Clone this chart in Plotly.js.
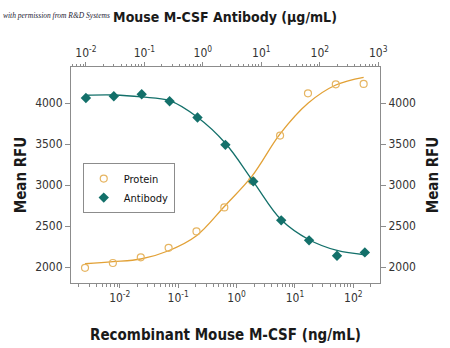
<!DOCTYPE html>
<html>
<head>
<meta charset="utf-8">
<script src="https://cdn.plot.ly/plotly-3.0.1.min.js"></script>
<style>html,body{margin:0;padding:0;background:#fff}#chart{width:450px;height:348px}</style>
</head>
<body>
<div id="chart"></div>
<script>
// Recombinant Mouse M-CSF concentration (ng/mL), 3-fold dilutions
const proteinConc = [0.00254, 0.00762, 0.0229, 0.0686, 0.206, 0.617, 1.85, 5.56, 16.7, 50, 150];
// Mouse M-CSF Antibody concentration (µg/mL)
const antibodyConc = [0.01, 0.03, 0.09, 0.27, 0.81, 2.43, 7.29, 21.9, 65.6, 197, 590];
// Mean RFU – measured points
const proteinRFU  = [1990, 2049, 2118, 2235, 2435, 2728, 3052, 3606, 4122, 4232, 4236];
const antibodyRFU = [4065, 4085, 4110, 4024, 3826, 3492, 3046, 2570, 2326, 2138, 2179];
// Mean RFU – fitted curves read at the same concentrations
const proteinFit  = [2040, 2065, 2098, 2199, 2382, 2739, 3113, 3626, 4000, 4223, 4317];
const antibodyFit = [4098, 4101, 4077, 4032, 3829, 3512, 3044, 2577, 2333, 2202, 2150];
// Tick values / labels
const bottomTickVals = [0.01, 0.1, 1, 10, 100];
const bottomTickText = ['10<sup>-2</sup>', '10<sup>-1</sup>', '10<sup>0</sup>', '10<sup>1</sup>', '10<sup>2</sup>'];
const topTickVals = [0.01, 0.1, 1, 10, 100, 1000];
const topTickText = ['10<sup>-2</sup>', '10<sup>-1</sup>', '10<sup>0</sup>', '10<sup>1</sup>', '10<sup>2</sup>', '10<sup>3</sup>'];
const yTickVals = [2000, 2500, 3000, 3500, 4000];

const ORANGE = '#E2A136';
const ORANGE_PT = '#E6B562';
const TEAL = '#13706A';
const AX = '#8c8c8c';
const FONT = '"Liberation Sans Narrow", "DejaVu Sans Condensed", sans-serif';

function minorTicks(lo, hi) {
  const v = [];
  for (let d = lo; d <= hi; d++) for (let k = 2; k <= 9; k++) v.push(k * Math.pow(10, d));
  return v;
}

const traces = [
  {x: proteinConc, y: proteinFit, mode: 'lines', line: {color: ORANGE, width: 1.3, shape: 'spline', smoothing: 1},
   xaxis: 'x', yaxis: 'y', showlegend: false, hoverinfo: 'skip'},
  {x: proteinConc, y: proteinRFU, mode: 'markers', name: 'Protein',
   marker: {symbol: 'circle-open', size: 7, color: ORANGE_PT, line: {width: 1.2, color: ORANGE_PT}},
   xaxis: 'x', yaxis: 'y'},
  {x: antibodyConc, y: antibodyFit, mode: 'lines', line: {color: TEAL, width: 1.3, shape: 'spline', smoothing: 1},
   xaxis: 'x2', yaxis: 'y2', showlegend: false, hoverinfo: 'skip'},
  {x: antibodyConc, y: antibodyRFU, mode: 'markers', name: 'Antibody',
   marker: {symbol: 'diamond', size: 8, color: TEAL},
   xaxis: 'x2', yaxis: 'y2'}
];

const yRange = [1805, 4443];
const tickFont = {family: FONT, size: 12, color: '#333'};
const titleFont = {family: FONT, size: 15, color: '#1a1a1a', weight: 'bold'};

const layout = {
  width: 450, height: 348,
  margin: {l: 71, r: 70, t: 67, b: 65},
  paper_bgcolor: '#fff', plot_bgcolor: '#fff',
  font: {family: FONT, color: '#333'},
  title: {text: 'Mouse M-CSF Antibody (µg/mL)', x: 0.5, xref: 'container', xanchor: 'center',
          y: 1 - 17/348, yref: 'container', yanchor: 'middle',
          font: {family: FONT, size: 14, color: '#1a1a1a', weight: 'bold'}},
  xaxis: {type: 'log', range: [-2.835, 2.456], showgrid: false, zeroline: false,
          showline: true, linecolor: AX, linewidth: 1, ticks: 'outside', ticklen: 4, tickcolor: AX,
          tickmode: 'array', tickvals: bottomTickVals, ticktext: bottomTickText, tickfont: tickFont,
          minor: {tickmode: 'array', tickvals: minorTicks(-3, 2), ticks: 'outside', ticklen: 2.5, tickcolor: AX, showgrid: false},
          title: {text: 'Recombinant Mouse M-CSF (ng/mL)', font: titleFont, standoff: 25},
          anchor: 'y', automargin: false},
  xaxis2: {type: 'log', range: [-2.255, 3.03], overlaying: 'x', side: 'top', anchor: 'y',
          showgrid: false, zeroline: false, showline: true, linecolor: AX, linewidth: 1,
          ticks: 'outside', ticklen: 4, tickcolor: AX,
          tickmode: 'array', tickvals: topTickVals, ticktext: topTickText, tickfont: tickFont,
          minor: {tickmode: 'array', tickvals: minorTicks(-3, 3), ticks: 'outside', ticklen: 2.5, tickcolor: AX, showgrid: false},
          automargin: false},
  yaxis: {range: yRange, showgrid: false, zeroline: false, showline: true, linecolor: AX, linewidth: 1,
          ticks: 'outside', ticklen: 5, tickcolor: AX, tickmode: 'array', tickvals: yTickVals,
          tickfont: tickFont, title: {text: 'Mean RFU', font: titleFont, standoff: 4}, automargin: false},
  yaxis2: {range: yRange, overlaying: 'y', side: 'right', anchor: 'x2', showgrid: false, zeroline: false,
          showline: true, linecolor: AX, linewidth: 1,
          ticks: 'outside', ticklen: 5, tickcolor: AX, tickmode: 'array', tickvals: yTickVals,
          tickfont: tickFont, title: {text: 'Mean RFU', font: titleFont, standoff: 12}, automargin: false},
  legend: {x: 0.038, y: 0.555, xanchor: 'left', yanchor: 'top', bgcolor: '#fff',
           bordercolor: AX, borderwidth: 1, font: {family: FONT, size: 11, color: '#111'},
           tracegroupgap: 0, itemwidth: 30},
  annotations: [
    {text: 'with permission from R&amp;D Systems', xref: 'paper', yref: 'paper',
     x: (1 - 71) / 309, xanchor: 'left', y: (283 - 16) / 216, yanchor: 'middle', showarrow: false,
     font: {family: '"Liberation Serif", "DejaVu Serif", serif', size: 7.5, style: 'italic', color: '#1d2233'}}
  ],
  showlegend: true
};

Plotly.newPlot('chart', traces, layout, {displayModeBar: false, staticPlot: true});
</script>
</body>
</html>
